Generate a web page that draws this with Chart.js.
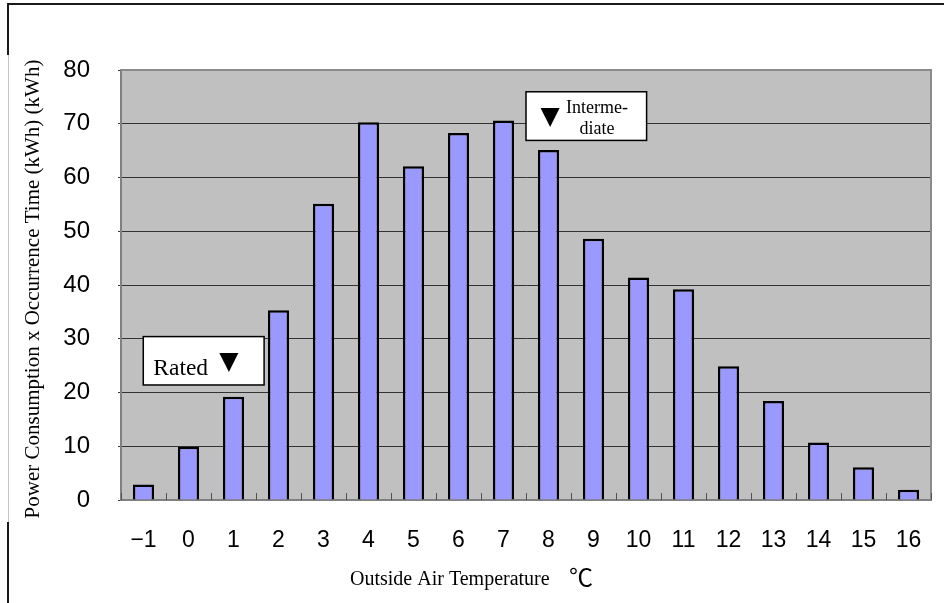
<!DOCTYPE html>
<html>
<head>
<meta charset="utf-8">
<script src="https://cdn.jsdelivr.net/npm/chart.js@4.4.1/dist/chart.umd.min.js"></script>
<style>
  html, body { margin: 0; padding: 0; background: #ffffff; }
  #wrap { width: 944px; height: 603px; }
</style>
</head>
<body>
<div id="wrap"><canvas id="chart" width="944" height="603"></canvas></div>
<script>
// Outside air temperature bins (°C)
const temperatures = ['−1', '0', '1', '2', '3', '4', '5', '6', '7', '8', '9', '10', '11', '12', '13', '14', '15', '16'];
// Power consumption x occurrence time per bin (kWh)
const energyKWh = [2.9, 9.9, 19.2, 35.3, 55.1, 70.3, 62.1, 68.3, 70.6, 65.1, 48.6, 41.4, 39.2, 24.9, 18.4, 10.7, 6.1, 1.9];
// Value axis ticks
const yTickValues = [0, 10, 20, 30, 40, 50, 60, 70, 80];

// Callout boxes, placed in axis units (category index / kWh)
const callouts = [
  { name: 'rated', lines: ['Rated'], marker: '▼', xMin: -0.005, xMax: 2.68, yMin: 21.4, yMax: 30.4 },
  { name: 'intermediate', lines: ['Interme-', 'diate'], marker: '▼', xMin: 8.5, xMax: 11.18, yMin: 66.9, yMax: 75.95 }
];

const SERIF = '"Liberation Serif", "Times New Roman", serif';
const SANS = '"Liberation Sans", Arial, sans-serif';

const frameAndBackground = {
  id: 'frameAndBackground',
  beforeDraw(chart) {
    const { ctx, chartArea: a } = chart;
    ctx.save();
    ctx.fillStyle = '#ffffff';
    ctx.fillRect(0, 0, chart.width, chart.height);
    // outer frame (top and left)
    ctx.strokeStyle = '#1a1a1a';
    ctx.lineWidth = 2;
    ctx.beginPath();
    ctx.moveTo(944, 4); ctx.lineTo(8, 4); ctx.lineTo(8, 55);
    ctx.moveTo(8, 522); ctx.lineTo(8, 603);
    ctx.stroke();
    ctx.strokeStyle = '#c4c4c4';
    ctx.lineWidth = 1;
    ctx.beginPath();
    ctx.moveTo(8.5, 55); ctx.lineTo(8.5, 522);
    ctx.stroke();
    // plot background
    ctx.fillStyle = '#c0c0c0';
    ctx.fillRect(a.left, a.top, a.right - a.left, a.bottom - a.top);
    ctx.restore();
  },
  afterDraw(chart) {
    const { ctx, chartArea: a } = chart;
    const xs = chart.scales.x, ys = chart.scales.y;
    ctx.save();
    // plot border top / right
    ctx.strokeStyle = '#8a8a8a';
    ctx.lineWidth = 2;
    ctx.beginPath();
    ctx.moveTo(a.left, a.top); ctx.lineTo(a.right, a.top); ctx.lineTo(a.right, a.bottom);
    ctx.stroke();
    // inward tick marks between categories
    ctx.strokeStyle = '#505050';
    ctx.lineWidth = 1;
    ctx.beginPath();
    for (let i = 0; i <= temperatures.length; i++) {
      const x = Math.round(xs.getPixelForValue(i - 0.5)) + 0.5;
      ctx.moveTo(x, a.bottom); ctx.lineTo(x, a.bottom - 7);
    }
    ctx.stroke();

    // callouts
    callouts.forEach(c => {
      const l = xs.getPixelForValue(c.xMin), r = xs.getPixelForValue(c.xMax);
      const t = ys.getPixelForValue(c.yMax), b = ys.getPixelForValue(c.yMin);
      ctx.fillStyle = '#ffffff';
      ctx.fillRect(l, t, r - l, b - t);
      ctx.strokeStyle = '#000000';
      ctx.lineWidth = 1.5;
      ctx.strokeRect(l, t, r - l, b - t);
      ctx.fillStyle = '#000000';
      if (c.name === 'rated') {
        ctx.font = '23.5px ' + SERIF;
        ctx.textAlign = 'left';
        ctx.textBaseline = 'alphabetic';
        ctx.fillText(c.lines[0], l + 10, t + 38.3);
        ctx.font = '25px "DejaVu Sans", sans-serif';
        ctx.textAlign = 'center';
        ctx.textBaseline = 'middle';
        ctx.fillText(c.marker, l + 85.7, t + 25.5);
      } else {
        ctx.font = '25px "DejaVu Sans", sans-serif';
        ctx.textAlign = 'center';
        ctx.textBaseline = 'middle';
        ctx.fillText(c.marker, l + 24, t + 25.5);
        ctx.font = '18px ' + SERIF;
        ctx.fillText(c.lines[0], l + 71, t + 16.6);
        ctx.fillText(c.lines[1], l + 71, t + 37.8);
      }
    });

    // axis titles
    ctx.fillStyle = '#000000';
    ctx.save();
    ctx.translate(39.3, 289);
    ctx.rotate(-Math.PI / 2);
    ctx.font = '21px ' + SERIF;
    ctx.textAlign = 'center';
    ctx.textBaseline = 'alphabetic';
    ctx.fillText('Power Consumption x Occurrence Time (kWh) (kWh)', 0, 0);
    ctx.restore();

    ctx.font = '20px ' + SERIF;
    ctx.textAlign = 'left';
    ctx.textBaseline = 'alphabetic';
    ctx.fillText('Outside Air Temperature', 350, 585);
    ctx.font = '24px "Noto Sans CJK JP", sans-serif';
    ctx.textAlign = 'right';
    ctx.fillText('℃', 593, 586);
    ctx.restore();
  }
};

new Chart(document.getElementById('chart'), {
  type: 'bar',
  data: {
    labels: temperatures,
    datasets: [{
      data: energyKWh,
      backgroundColor: '#9999ff',
      borderColor: '#000000',
      borderWidth: 2.5,
      barPercentage: 0.47,
      categoryPercentage: 1.0
    }]
  },
  options: {
    responsive: false,
    devicePixelRatio: 1,
    animation: false,
    layout: { padding: { left: 0, right: 13, top: 70, bottom: 0 } },
    plugins: { legend: { display: false }, tooltip: { enabled: false } },
    scales: {
      x: {
        afterFit(s) { s.height = 103; s.paddingLeft = 0; s.paddingRight = 0; },
        grid: { display: false, drawTicks: false },
        border: { display: true, color: '#808080', width: 2 },
        ticks: { color: '#000000', padding: 27, font: { family: SANS, size: 23 }, maxRotation: 0, autoSkip: false }
      },
      y: {
        min: 0, max: 80,
        afterFit(s) { s.width = 121; s.paddingTop = 0; s.paddingBottom = 0; },
        afterBuildTicks(s) { s.ticks = yTickValues.map(v => ({ value: v })); },
        grid: { color: '#333333', lineWidth: 1, drawTicks: true, tickLength: 3 },
        border: { display: true, color: '#808080', width: 2 },
        ticks: { color: '#000000', padding: 28, font: { family: SANS, size: 24 } }
      }
    }
  },
  plugins: [frameAndBackground]
});
</script>
</body>
</html>
